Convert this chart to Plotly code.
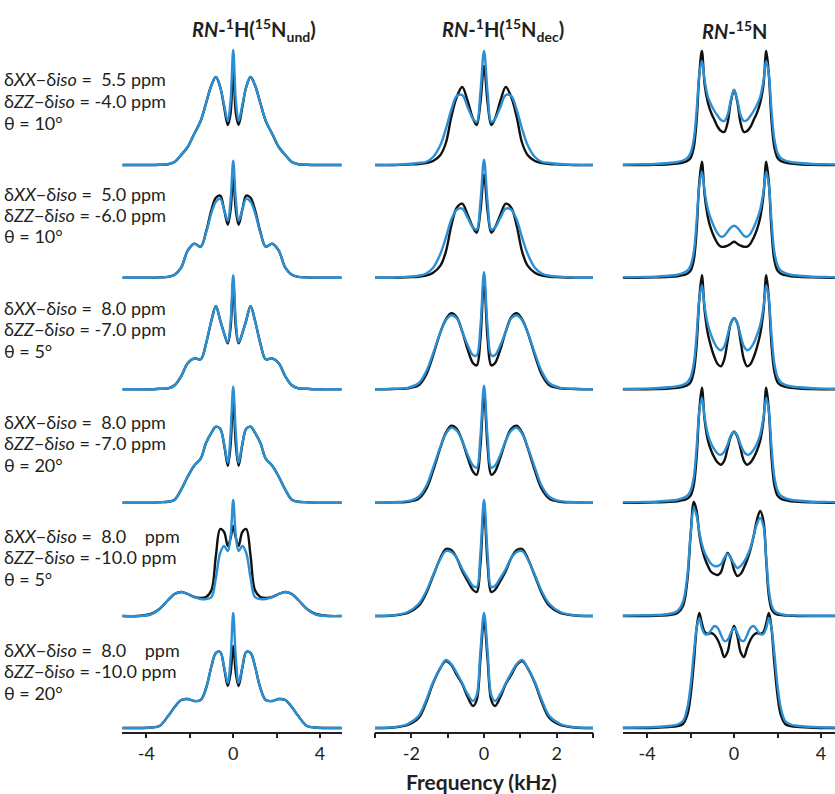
import plotly.graph_objects as go

W, H = 835, 794

# ---------------- frequency grids (kHz) ----------------
freq_h_und = [-5.1, -4.4, -3.8, -3.4, -3.0, -2.7, -2.4, -2.1, -1.8, -1.5, -1.25, -1.0, -0.8, -0.6, -0.42, -0.25, -0.12, 0,
              0.12, 0.25, 0.42, 0.6, 0.8, 1.0, 1.25, 1.5, 1.8, 2.1, 2.4, 2.7, 3.0, 3.4, 3.8, 4.4, 5.0]
freq_h_dec = [-3.0, -2.5, -2.1, -1.8, -1.6, -1.4, -1.2, -1.05, -0.9, -0.75, -0.6, -0.45, -0.3, -0.2, -0.1, 0,
              0.1, 0.2, 0.3, 0.45, 0.6, 0.75, 0.9, 1.05, 1.2, 1.4, 1.6, 1.8, 2.1, 2.5, 3.0]
freq_n = [-5.12, -4.4, -3.6, -3.0, -2.6, -2.35, -2.15, -2.0, -1.85, -1.72, -1.6, -1.48, -1.35, -1.2, -1.05, -0.9, -0.75,
          -0.6, -0.45, -0.3, -0.15, 0, 0.15, 0.3, 0.45, 0.6, 0.75, 0.9, 1.05, 1.2, 1.35, 1.48, 1.6, 1.72, 1.85, 2.0,
          2.15, 2.35, 2.6, 3.0, 3.6, 4.4, 5.12]

# ---------------- RN-1H(15N und) : black = exact, blue = RN ----------------
h_und_black = [
    [0, 0, 0, 0.3, 0.8, 3, 10, 18, 31, 44, 62, 80, 88, 78, 58, 40, 52, 100,
     52, 40, 58, 78, 88, 80, 62, 44, 31, 18, 10, 3, 0.8, 0.3, 0, 0, 0],
    [0, 0, 0, 0.3, 0.8, 3, 10, 27, 34, 31, 46, 68, 80, 82, 68, 53, 68, 100,
     68, 53, 68, 82, 80, 68, 46, 31, 34, 27, 10, 3, 0.8, 0.3, 0, 0, 0],
    [0, 0, 0, 0.5, 1, 4, 13, 26, 31, 30, 46, 69, 83, 69, 56, 46, 62, 108,
     62, 46, 56, 69, 83, 69, 46, 30, 31, 26, 13, 4, 1, 0.5, 0, 0, 0],
    [0, 0, 0, 0.5, 1, 3, 13, 26, 37, 44, 60, 70, 76, 74, 58, 37, 58, 105,
     58, 37, 58, 74, 76, 70, 60, 44, 37, 26, 13, 3, 1, 0.5, 0, 0, 0],
    [0, 0, 2, 7, 16, 22, 24, 22, 19, 18, 19, 26, 60, 87, 84, 70, 78, 90,
     78, 70, 84, 87, 60, 26, 19, 18, 19, 22, 24, 22, 16, 7, 2, 0, 0],
    [0, 0, 0.5, 2, 12, 21, 28, 29, 27, 28, 40, 62, 75, 76, 60, 42, 55, 82,
     55, 42, 60, 76, 75, 62, 40, 28, 27, 29, 28, 21, 12, 2, 0.5, 0, 0],
]
h_und_blue = [
    [0, 0, 0, 0.3, 0.8, 3, 10, 18, 31, 44, 62, 80, 88, 78, 60, 44, 65, 115,
     65, 44, 60, 78, 88, 80, 62, 44, 31, 18, 10, 3, 0.8, 0.3, 0, 0, 0],
    [0, 0, 0, 0.3, 0.8, 3, 10, 27, 34, 31, 45, 65, 76, 79, 68, 57, 78, 117,
     78, 57, 68, 79, 76, 65, 45, 31, 34, 27, 10, 3, 0.8, 0.3, 0, 0, 0],
    [0, 0, 0, 0.5, 1, 4, 13, 26, 31, 30, 46, 69, 83, 69, 56, 47, 68, 114,
     68, 47, 56, 69, 83, 69, 46, 30, 31, 26, 13, 4, 1, 0.5, 0, 0, 0],
    [0, 0, 0, 0.5, 1, 3, 13, 26, 37, 44, 60, 70, 76, 74, 59, 40, 70, 116,
     70, 40, 59, 74, 76, 70, 60, 44, 37, 26, 13, 3, 1, 0.5, 0, 0, 0],
    [0, 0, 1.5, 7, 16, 22, 24, 22, 19, 17, 17, 19, 38, 63, 70, 65, 80, 116,
     80, 65, 70, 63, 38, 19, 17, 17, 19, 22, 24, 22, 16, 7, 1.5, 0, 0],
    [0, 0, 0.5, 2, 12, 21, 28, 29, 27, 28, 40, 62, 75, 76, 61, 45, 70, 115,
     70, 45, 61, 76, 75, 62, 40, 28, 27, 29, 28, 21, 12, 2, 0.5, 0, 0],
]

# ---------------- RN-1H(15N dec) ----------------
h_dec_black = [
    [0, 0, 0.5, 1, 2, 4, 10, 22, 48, 68, 78, 64, 46, 40, 62, 99,
     62, 40, 46, 64, 78, 68, 48, 22, 10, 4, 2, 1, 0.5, 0, 0],
    [0, 0, 0.5, 1, 2, 5, 12, 26, 52, 70, 74, 63, 50, 45, 66, 103,
     66, 45, 50, 63, 74, 70, 52, 26, 12, 5, 2, 1, 0.5, 0, 0],
    [0, 0.3, 1, 4, 14, 34, 57, 70, 76, 72, 58, 40, 26, 24, 50, 109,
     50, 24, 26, 40, 58, 72, 76, 70, 57, 34, 14, 4, 1, 0.3, 0],
    [0, 0.3, 1, 4, 13, 32, 55, 70, 77, 74, 62, 45, 31, 28, 55, 109,
     55, 28, 31, 45, 62, 74, 77, 70, 55, 32, 13, 4, 1, 0.3, 0],
    [0, 0.5, 3, 10, 22, 40, 58, 67, 66, 58, 45, 35, 26, 24, 52, 108,
     52, 24, 26, 35, 45, 58, 66, 67, 58, 40, 22, 10, 3, 0.5, 0],
    [0, 0.5, 3, 10, 25, 45, 60, 67, 63, 53, 44, 31, 22, 28, 68, 108,
     68, 28, 22, 31, 44, 53, 63, 67, 60, 45, 25, 10, 3, 0.5, 0],
]
h_dec_blue = [
    [0, 0, 1, 2, 3, 8, 20, 36, 55, 69, 70, 58, 46, 43, 72, 114,
     72, 43, 46, 58, 70, 69, 55, 36, 20, 8, 3, 2, 1, 0, 0],
    [0, 0, 1, 2, 4, 10, 24, 40, 58, 68, 69, 60, 50, 48, 75, 118,
     75, 48, 50, 60, 69, 68, 58, 40, 24, 10, 4, 2, 1, 0, 0],
    [0, 0.5, 1.5, 6, 17, 36, 57, 69, 74, 71, 58, 44, 34, 34, 62, 117,
     62, 34, 34, 44, 58, 71, 74, 69, 57, 36, 17, 6, 1.5, 0.5, 0],
    [0, 0.5, 1.5, 6, 16, 35, 56, 69, 75, 72, 62, 48, 37, 35, 65, 117,
     65, 35, 37, 48, 62, 72, 75, 69, 56, 35, 16, 6, 1.5, 0.5, 0],
    [0, 0.7, 4, 12, 24, 41, 57, 65, 64, 58, 47, 38, 30, 29, 62, 116,
     62, 29, 30, 38, 47, 58, 64, 65, 57, 41, 24, 12, 4, 0.7, 0],
    [0, 0.7, 4, 12, 27, 46, 60, 68, 64, 55, 45, 34, 27, 33, 76, 115,
     76, 33, 27, 34, 45, 55, 64, 68, 60, 46, 27, 12, 4, 0.7, 0],
]

# ---------------- RN-15N ----------------
n_black = [
    [0, 0, 0.3, 0.8, 1.5, 2.5, 4, 7, 18, 45, 90, 114, 80, 62, 52, 45, 38, 34, 33, 42, 63, 75,
     63, 42, 33, 34, 38, 45, 52, 62, 80, 114, 90, 45, 18, 7, 4, 2.5, 1.5, 0.8, 0.3, 0, 0],
    [0, 0, 0.3, 0.8, 1.5, 2.5, 4, 7, 18, 48, 95, 116, 82, 60, 48, 40, 34, 31, 31, 32, 34, 36,
     34, 32, 31, 31, 34, 40, 48, 60, 82, 116, 95, 48, 18, 7, 4, 2.5, 1.5, 0.8, 0.3, 0, 0],
    [0, 0, 0.3, 0.8, 1.5, 2.5, 4, 7, 18, 45, 90, 114, 78, 55, 42, 32, 25, 23, 30, 48, 66, 71,
     66, 48, 30, 23, 25, 32, 42, 55, 78, 114, 90, 45, 18, 7, 4, 2.5, 1.5, 0.8, 0.3, 0, 0],
    [0, 0, 0.3, 0.8, 1.5, 2.5, 4, 7, 18, 46, 92, 115, 82, 62, 52, 45, 40, 38, 42, 54, 66, 71,
     66, 54, 42, 38, 40, 45, 52, 62, 82, 115, 92, 46, 18, 7, 4, 2.5, 1.5, 0.8, 0.3, 0, 0],
    [0, 0, 0.3, 1, 3, 10, 35, 80, 114, 105, 82, 68, 58, 50, 44, 42, 41, 44, 55, 63, 58, 46,
     40, 42, 48, 56, 66, 80, 96, 105, 95, 55, 20, 7, 3, 1.5, 1, 0.5, 0.3, 0, 0, 0, 0],
    [0, 0, 0.3, 1, 2, 4, 13, 32, 65, 100, 115, 105, 96, 94, 95, 93, 88, 80, 71, 76, 92, 102,
     92, 76, 71, 80, 88, 93, 95, 94, 96, 105, 115, 100, 65, 32, 13, 4, 2, 1, 0.3, 0, 0],
]
n_blue = [
    [0.3, 0.6, 1, 2, 3, 4.5, 7, 12, 26, 55, 90, 104, 84, 68, 60, 54, 49, 45, 44, 50, 65, 75,
     65, 50, 44, 45, 49, 54, 60, 68, 84, 104, 90, 55, 26, 12, 7, 4.5, 3, 2, 1, 0.6, 0.3],
    [0.3, 0.6, 1, 2, 3, 4.5, 7, 12, 26, 57, 92, 106, 86, 68, 58, 50, 44, 41, 42, 46, 50, 52,
     50, 46, 42, 41, 44, 50, 58, 68, 86, 106, 92, 57, 26, 12, 7, 4.5, 3, 2, 1, 0.6, 0.3],
    [0.3, 0.6, 1, 2, 3, 4.5, 7, 12, 26, 55, 90, 104, 82, 64, 54, 46, 41, 39, 43, 54, 66, 71,
     66, 54, 43, 39, 41, 46, 54, 64, 82, 104, 90, 55, 26, 12, 7, 4.5, 3, 2, 1, 0.6, 0.3],
    [0.3, 0.6, 1, 2, 3, 4.5, 7, 12, 26, 56, 91, 105, 85, 68, 59, 53, 49, 48, 51, 58, 67, 71,
     67, 58, 51, 48, 49, 53, 59, 68, 85, 105, 91, 56, 26, 12, 7, 4.5, 3, 2, 1, 0.6, 0.3],
    [0.3, 0.6, 1, 2, 5, 14, 40, 82, 108, 100, 84, 72, 63, 57, 52, 50, 50, 52, 58, 62, 58, 52,
     48, 50, 54, 60, 68, 80, 92, 98, 90, 58, 26, 11, 5, 3, 2, 1, 0.6, 0.4, 0.3, 0.3, 0.3],
    [0.3, 0.5, 1, 2, 3.5, 7, 20, 42, 75, 100, 110, 100, 94, 94, 98, 102, 100, 93, 87, 88, 95, 100,
     95, 88, 87, 93, 100, 102, 98, 94, 94, 100, 110, 100, 75, 42, 20, 7, 3.5, 2, 1, 0.5, 0.3],
]

column_titles = [
    "<b><i>RN</i>-<sup>1</sup>H(<sup>15</sup>N<sub>und</sub>)</b>",
    "<b><i>RN</i>-<sup>1</sup>H(<sup>15</sup>N<sub>dec</sub>)</b>",
    "<b><i>RN</i>-<sup>15</sup>N</b>",
]
delta_xx = ["5.5", "5.0", "8.0", "8.0", "8.0", "8.0"]
delta_zz = ["-4.0", "-6.0", "-7.0", "-7.0", "-10.0", "-10.0"]
theta_deg = ["10", "10", "5", "20", "5", "20"]

tick_vals = [[-4, -2, 0, 2, 4], [-3, -2, -1, 0, 1, 2, 3], [-4, -2, 0, 2, 4]]
tick_text = [["-4", "", "0", "", "4"], ["", "-2", "", "0", "", "2", ""], ["-4", "", "0", "", "4"]]

# ---------------- layout geometry (pixels) ----------------
col_px = [(121.7, 341.7), (375.0, 593.0), (622.7, 835.0)]
col_range = [(-5.14, 5.0), (-3.0, 3.0), (-5.12, 4.64)]
row_base_px = [165.0, 277.7, 389.3, 502.7, 616.0, 728.0]
axis_px = 732.7
label_mid_px = [101, 215, 329, 443, 557, 671]
label_gap_px = 21.5

BLACK = "#111111"
BLUE = "#2a8fd3"
TXT = "#231f20"
FONT = "Lato"

def fx(px):
    return px / W

def fy(py):
    return 1 - py / H

fig = go.Figure()
layout = dict(
    width=W, height=H, margin=dict(l=0, r=0, t=0, b=0),
    paper_bgcolor="white", plot_bgcolor="rgba(0,0,0,0)",
    showlegend=False, font=dict(family=FONT, color=TXT),
)

grids = [freq_h_und, freq_h_dec, freq_n]
blacks = [h_und_black, h_dec_black, n_black]
blues = [h_und_blue, h_dec_blue, n_blue]

for c in range(3):
    xname = "x" if c == 0 else f"x{c + 1}"
    layout["xaxis" if c == 0 else f"xaxis{c + 1}"] = dict(
        domain=[fx(col_px[c][0]), fx(col_px[c][1])],
        range=list(col_range[c]),
        anchor="free", position=fy(axis_px),
        showline=True, linecolor=TXT, linewidth=1.5,
        ticks="outside", ticklen=5, tickwidth=1.5, tickcolor=TXT,
        tickvals=tick_vals[c], ticktext=tick_text[c],
        tickfont=dict(size=18, family=FONT, color=TXT),
        showgrid=False, zeroline=False, fixedrange=True,
    )
    for r in range(6):
        k = c * 6 + r + 1
        yname = "y" if k == 1 else f"y{k}"
        base = row_base_px[r]
        layout["yaxis" if k == 1 else f"yaxis{k}"] = dict(
            domain=[fy(base + 10), fy(base - 130)],
            range=[-10, 130], visible=False, fixedrange=True,
            anchor="free", position=0,
        )
        for vals, color in ((blacks[c][r], BLACK), (blues[c][r], BLUE)):
            fig.add_trace(go.Scatter(
                x=grids[c], y=vals, xaxis=xname, yaxis=yname, mode="lines",
                line=dict(color=color, width=2.4, shape="spline", smoothing=1.0),
                hoverinfo="skip",
            ))

annotations = []
title_left_px = [190, 440, 700]
for c in range(3):
    annotations.append(dict(
        text=column_titles[c], xref="paper", yref="paper",
        x=fx(title_left_px[c]), y=fy(30), xanchor="left", yanchor="middle",
        showarrow=False, font=dict(size=20, family=FONT, color=TXT),
    ))

nb = "\u00a0"
for r in range(6):
    pad = nb * 3 if len(delta_zz[r]) > 4 else ""
    lines = [
        f"δ<i>XX</i>−δ<i>iso</i>{nb}={nb}{nb}{delta_xx[r]}{nb}{pad}ppm",
        f"δ<i>ZZ</i>−δ<i>iso</i>{nb}={nb}{delta_zz[r]}{nb}ppm",
        f"θ{nb}={nb}{theta_deg[r]}°",
    ]
    for i, txt in enumerate(lines):
        annotations.append(dict(
            text=txt, xref="paper", yref="paper",
            x=fx(2), y=fy(label_mid_px[r] + (i - 1) * label_gap_px),
            xanchor="left", yanchor="middle", align="left",
            showarrow=False, font=dict(size=18, family=FONT, color=TXT),
        ))

annotations.append(dict(
    text="<b>Frequency (kHz)</b>", xref="paper", yref="paper",
    x=fx(481), y=fy(781), xanchor="center", yanchor="middle",
    showarrow=False, font=dict(size=21, family=FONT, color=TXT),
))

layout["annotations"] = annotations
fig.update_layout(**layout)
fig.write_html("out.html")
